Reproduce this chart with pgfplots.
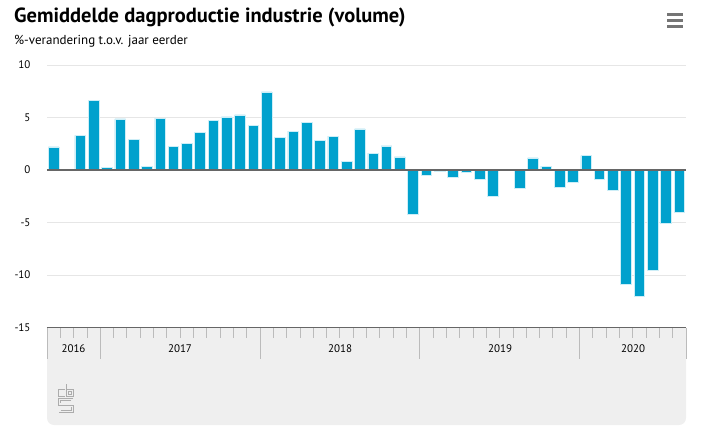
\documentclass[border=0pt]{standalone}
\usepackage{fontspec}
\setmainfont{PT Sans}
\usepackage{pgfplots}
\pgfplotsset{compat=1.18}

\definecolor{cbsblue}{HTML}{00A1CD}
\definecolor{baredge}{HTML}{CDEEF7}
\definecolor{gridgray}{HTML}{E6E6E6}
\definecolor{axisgray}{HTML}{666666}
\definecolor{tickgray}{HTML}{BBBBBB}
\definecolor{bandgray}{HTML}{EFEFEF}

\begin{document}
\begin{tikzpicture}[x=1pt,y=1pt]
% canvas 706 x 442
\path (0,0) rectangle (706,442);

% title block
\node[anchor=base west, inner sep=0] at (14,419)
  {\fontsize{20.5}{24}\selectfont\bfseries Gemiddelde dagproductie industrie (volume)};
\node[anchor=base west, inner sep=0] at (14,397)
  {\fontsize{13}{15}\selectfont \%-verandering t.o.v. jaar eerder};

% menu icon
\foreach \yy in {427.5,421.5,415.5}
  \draw[line width=2.8pt, color=axisgray!90] (667,\yy) -- (683,\yy);

% grey band under the axis
\fill[bandgray, rounded corners=7pt] (47,114.5) -- (47,17) -- (686,17) -- (686,114.5) -- cycle;
\fill[bandgray] (47,100) rectangle (686,114.5);

\begin{axis}[
    at={(47pt,114.5pt)}, anchor=south west,
    scale only axis,
    width=639pt, height=262.5pt,
    xmin=-0.5, xmax=47.5,
    ymin=-15, ymax=10,
    axis x line*=bottom,
    axis y line*=left,
    y axis line style={draw=none},
    x axis line style={color=axisgray, line width=1pt},
    ytick={-15,-10,-5,0,5,10},
    ytick style={draw=none},
    ymajorgrids=true,
    grid style={color=gridgray, line width=1pt},
    yticklabel style={font=\fontsize{11}{13}\selectfont, anchor=east, xshift=-3pt},
    /pgf/number format/assume math mode=true,
    xtick={-0.5,0.5,...,47.5},
    xticklabels={},
    tick align=outside,
    major tick length=10pt,
    xtick style={color=tickgray, line width=0.8pt},
    extra x ticks={-0.5,3.5,15.5,27.5,39.5,47.5},
    extra x tick labels={},
    extra x tick style={major tick length=31pt, grid=none, xtick style={color=tickgray, line width=0.8pt}},
    clip=false,
]
\addplot[ybar, bar width=10.6pt, bar shift=0pt, fill=cbsblue, draw=baredge, line width=0.6pt]
coordinates {
(0,2.2) (2,3.3) (3,6.6) (4,0.26) (5,4.86) (6,2.94) (7,0.35) (8,4.95)
(9,2.27) (10,2.56) (11,3.6) (12,4.76) (13,5.05) (14,5.24) (15,4.28)
(16,7.44) (17,3.13) (18,3.7) (19,4.57) (20,2.84) (21,3.23) (22,0.85)
(23,3.92) (24,1.6) (25,2.3) (26,1.25) (27,-4.26) (28,-0.55) (29,-0.1)
(30,-0.74) (31,-0.26) (32,-0.87) (33,-2.47) (35,-1.73) (36,1.15)
(37,0.38) (38,-1.6) (39,-1.15) (40,1.37) (41,-0.87) (42,-1.92)
(43,-10.86) (44,-12.07) (45,-9.59) (46,-5.11) (47,-4.0)
};
% zero line
\draw[color=axisgray, line width=1.5pt] (axis cs:-0.5,0) -- (axis cs:47.5,0);
\end{axis}

% year labels
\begin{scope}[every node/.style={anchor=base, inner sep=0, font=\fontsize{11}{13}\selectfont}]
\node at (73.5,90) {2016};
\node at (180,90) {2017};
\node at (340,90) {2018};
\node at (500,90) {2019};
\node at (633,90) {2020};
\end{scope}

% cbs logo (rough)
\begin{scope}[color=gray!65, line width=0.8pt]
\draw (65,53) -- (58.5,53) -- (58.5,46) -- (65,46);
\draw (66.5,58) -- (66.5,46) -- (73,46) -- (73,53) -- (66.5,53);
\draw (68.5,51) rectangle (71,48);
\draw (73,44) -- (58.5,44) -- (58.5,37) -- (73,37) -- (73,30) -- (58.5,30);
\draw (71,42) -- (60.5,42) -- (60.5,39);
\draw (60.5,32) -- (71,32) -- (71,35);
\end{scope}
\end{tikzpicture}
\end{document}
